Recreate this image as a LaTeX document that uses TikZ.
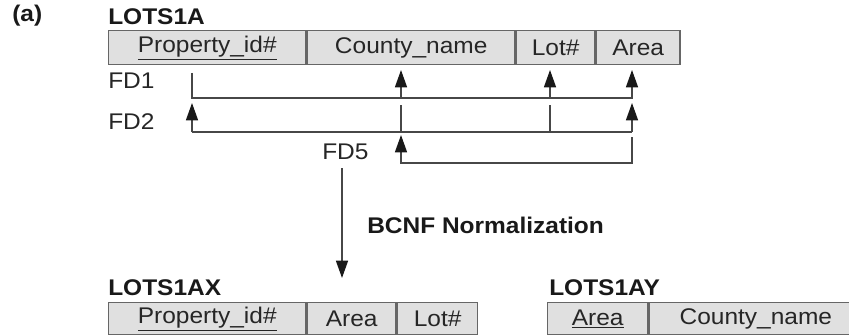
\documentclass[tikz,border=0pt]{standalone}
\usepackage{fontspec}
\setmainfont{Liberation Sans}[FakeStretch=1.08]
\usetikzlibrary{positioning,arrows.meta}
\definecolor{cellfill}{gray}{0.88}
\definecolor{cellline}{gray}{0.4}
\definecolor{fdline}{gray}{0.28}
\tikzset{
  cell/.style={draw=cellline, fill=cellfill, line width=1.1pt, inner sep=0pt,
    minimum height=25.5pt, font=\fontsize{17}{20}\selectfont, text=black!85},
  lowcell/.style={cell, minimum height=24pt},
  title/.style={anchor=west, inner sep=0pt, font=\fontsize{17}{20}\selectfont\bfseries, text=black!90},
  fdlabel/.style={anchor=west, inner sep=0pt, font=\fontsize{17}{20}\selectfont, text=black!85},
  fd/.style={draw=fdline, line width=1.1pt},
  fdarrow/.style={fd, -{Triangle[length=13pt,width=9pt,color=black!90]}}
}
\begin{document}
\begin{tikzpicture}[x=0.75pt,y=-0.75pt]
\useasboundingbox (0,0) rectangle (849,335);

% LOTS1A
\node[title] (tag) at (12,16) {(a)};
\node[title] (lotsa) at (108,17) {LOTS1A};
\node[cell, minimum width=147.75pt, anchor=north west] (pid) at (108,30) {\underline{Property\_id\#}};
\node[cell, minimum width=156pt, right=0pt of pid] (cty) {County\_name};
\node[cell, minimum width=58.5pt, right=0pt of cty] (lot) {Lot\#};
\node[cell, minimum width=63pt, right=0pt of lot] (area) {Area};

\node[fdlabel] (fd1) at (108,81) {FD1};
\node[fdlabel] (fd2) at (108,122) {FD2};
\node[fdlabel] (fd5) at (322,152) {FD5};

% FD1
\draw[fdarrow] (192,73) |- (632,98) -- (632,70);
\draw[fdarrow] (401,98) -- (401,70);
\draw[fdarrow] (550,98) -- (550,70);

% FD2
\draw[fd] (192,132) -- (632,132);
\draw[fdarrow] (192,132) -- (192,103);
\draw[fdarrow] (632,132) -- (632,103);
\draw[fd] (401,105) -- (401,132);
\draw[fd] (550,105) -- (550,132);

% FD5
\draw[fdarrow] (632,137) |- (401,163) -- (401,135);

% normalization
\coordinate (from) at (342,168);
\coordinate (to) at (342,278);
\draw[fdarrow] (from) -- (to);
\node[title] (bcnf) at (367,225) {BCNF Normalization};

% LOTS1AX
\node[title] (lotsax) at (108,288) {LOTS1AX};
\node[lowcell, minimum width=147.75pt, anchor=north west] (xpid) at (108,302) {\underline{Property\_id\#}};
\node[lowcell, minimum width=66.75pt, right=0pt of xpid] (xarea) {Area};
\node[lowcell, minimum width=60pt, right=0pt of xarea] (xlot) {Lot\#};

% LOTS1AY
\node[title] (lotsay) at (549,288) {LOTS1AY};
\node[lowcell, minimum width=75pt, anchor=north west] (yarea) at (547,302) {\underline{Area}};
\node[lowcell, minimum width=160pt, right=0pt of yarea] (ycty) {County\_name};
\end{tikzpicture}
\end{document}
